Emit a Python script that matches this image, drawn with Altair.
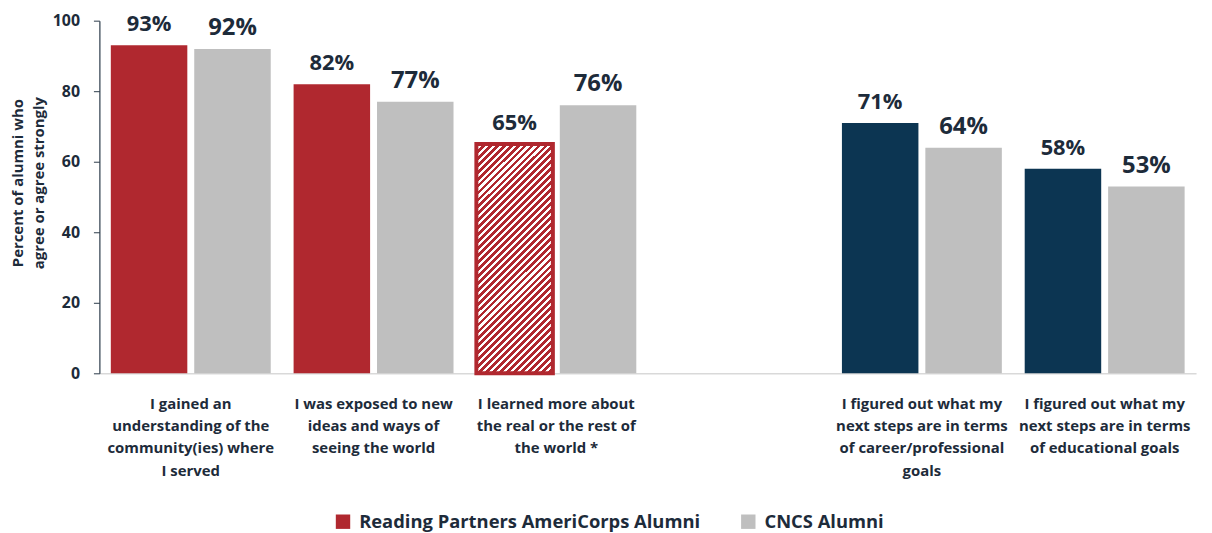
import altair as alt
import pandas as pd

# ---- data ----
categories = [
    "I gained an|understanding of the|community(ies) where|I served",
    "I was exposed to new|ideas and ways of|seeing the world",
    "I learned more about|the real or the rest of|the world *",
    "I figured out what my|next steps are in terms|of career/professional|goals",
    "I figured out what my|next steps are in terms|of educational goals",
]
gap_slot = " "
series_names = ["Reading Partners AmeriCorps Alumni", "CNCS Alumni"]
rp_values = [93, 82, 65, 71, 58]
cncs_values = [92, 77, 76, 64, 53]
rp_styles = ["solid", "solid", "hatch", "navy", "navy"]
y_ticks = [0, 20, 40, 60, 80, 100]
y_title = ["Percent of alumni who", "agree or agree strongly"]

RED = "#B0282F"
GRAY = "#BFBFBF"
NAVY = "#0C3552"
TEXT = "#1D2B3A"
FONT = "Open Sans"

rows = []
for c, v, s in zip(categories, rp_values, rp_styles):
    rows.append({"cat": c, "series": series_names[0], "value": v, "style": s, "label": f"{v}%"})
for c, v in zip(categories, cncs_values):
    rows.append({"cat": c, "series": series_names[1], "value": v, "style": "gray", "label": f"{v}%"})
df = pd.DataFrame(rows)

x_domain = categories[:3] + [gap_slot] + categories[3:]

# diagonal hatch as a striped linear gradient
n_stripes = 44
stops = []
for i in range(n_stripes):
    a = i / n_stripes
    b = (i + 0.55) / n_stripes
    c = (i + 1) / n_stripes
    stops += [
        alt.GradientStop(color=RED, offset=a),
        alt.GradientStop(color=RED, offset=b),
        alt.GradientStop(color="#FFFFFF", offset=b),
        alt.GradientStop(color="#FFFFFF", offset=c),
    ]
hatch = alt.LinearGradient(gradient="linear", stops=stops, x1=0, y1=0, x2=0.4, y2=1.2)

x_enc = alt.X(
    "cat:N",
    sort=x_domain,
    scale=alt.Scale(domain=x_domain, paddingInner=0, paddingOuter=0),
    axis=alt.Axis(
        title=None,
        labelExpr="datum.value == ' ' ? '' : split(datum.value, '|')",
        labelAngle=0,
        ticks=False,
        domainColor="#D9D9D9",
        domainWidth=1.5,
        labelFont=FONT,
        labelFontWeight="bold",
        labelFontSize=15,
        labelColor=TEXT,
        labelLineHeight=22.5,
        labelPadding=23,
        labelBaseline="top",
        labelLimit=300,
        labelOverlap=False,
        labelBound=False,
    ),
)
xo_enc = alt.XOffset(
    "series:N",
    sort=series_names,
    scale=alt.Scale(domain=series_names, paddingInner=0.083, paddingOuter=0.137),
)
y_enc = alt.Y(
    "value:Q",
    scale=alt.Scale(domain=[0, 100], nice=False),
    axis=alt.Axis(
        values=y_ticks,
        grid=False,
        title=y_title,
        titleFont=FONT,
        titleFontWeight="bold",
        titleFontSize=15,
        titleColor=TEXT,
        titleLineHeight=21,
        titleAngle=-90,
        titleAlign="center",
        titleBaseline="top",
        titleX=-89,
        titleY=163,
        labelFont=FONT,
        labelFontWeight="bold",
        labelFontSize=16,
        labelColor=TEXT,
        labelPadding=14,
        tickSize=6,
        tickColor="#2B3A4A",
        domainColor="#2B3A4A",
        domainWidth=1.2,
    ),
)

base = alt.Chart(df)

bars = base.transform_filter("datum.style != 'hatch'").mark_bar().encode(
    x=x_enc,
    xOffset=xo_enc,
    y=y_enc,
    color=alt.condition(
        "datum.style == 'navy'",
        alt.value(NAVY),
        alt.Color(
            "series:N",
            sort=series_names,
            scale=alt.Scale(domain=series_names, range=[RED, GRAY]),
            legend=alt.Legend(
                title=None,
                orient="none",
                direction="horizontal",
                legendX=236,
                legendY=495,
                symbolType="square",
                symbolSize=210,
                symbolStrokeWidth=0,
                labelFont=FONT,
                labelFontWeight="bold",
                labelFontSize=18.5,
                labelColor=TEXT,
                labelOffset=7,
                columnPadding=38,
                labelLimit=400,
            ),
        ),
    ),
)

hatched = base.transform_filter("datum.style == 'hatch'").mark_bar(
    fill=hatch, stroke=RED, strokeWidth=4
).encode(x=x_enc, xOffset=xo_enc, y=y_enc)

labels = base.mark_text(
    baseline="alphabetic", dy=-14, font=FONT, fontWeight="bold", color=TEXT
).encode(
    x=x_enc,
    xOffset=xo_enc,
    y=y_enc,
    text="label:N",
    size=alt.condition("datum.series == 'CNCS Alumni'", alt.value(24), alt.value(22)),
)

chart = (
    alt.layer(bars, hatched, labels)
    .properties(
        width=1104,
        height=355,
        autosize=alt.AutoSizeParams(type="none"),
        padding={"left": 92, "top": 11, "right": 8, "bottom": 160},
        background="white",
    )
    .configure_view(stroke=None)
)

chart.save("out.html", embed_options={"renderer": "svg", "actions": False})
